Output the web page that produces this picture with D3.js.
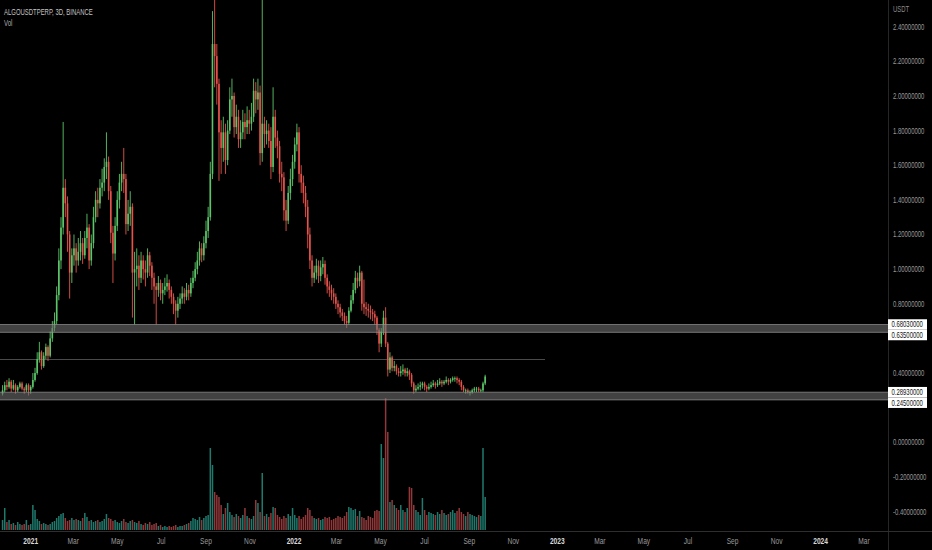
<!DOCTYPE html>
<html><head><meta charset="utf-8">
<script src="https://cdn.jsdelivr.net/npm/d3@7/dist/d3.min.js"></script>
<style>html,body{margin:0;padding:0;background:#000;overflow:hidden}</style>
</head><body>
<svg id="chart" width="932" height="550"></svg>
<script>
// ---------------- DATA ----------------
const title = "ALGOUSDTPERP, 3D, BINANCE";
const paneLabel = "Vol";
const currency = "USDT";
const firstCandle = "2020-11-23";   // 3-day candles
const firstOpen = 0.28;

const closes = [
0.30,0.33,0.32,0.35,0.31,0.33,0.30,0.32,0.34,0.31,
0.30,0.33,0.30,0.32,0.36,0.40,0.48,0.52,0.44,0.50,
0.55,0.50,0.60,0.66,0.70,0.85,1.05,1.24,1.47,1.38,
1.20,0.98,1.08,1.12,1.05,1.10,1.15,1.08,1.18,1.24,
1.05,1.15,1.30,1.40,1.38,1.47,1.50,1.59,1.62,1.45,
1.21,1.09,1.25,1.40,1.50,1.55,1.52,1.26,1.32,1.36,
0.98,1.00,1.02,0.95,1.05,1.00,0.98,1.08,1.02,0.95,
0.90,0.88,0.92,0.86,0.88,0.90,0.92,0.88,0.84,0.80,
0.76,0.80,0.83,0.86,0.84,0.88,0.86,0.92,0.95,1.00,
1.05,1.12,1.08,1.15,1.22,1.30,1.55,2.30,2.23,2.07,
1.79,1.70,1.79,1.63,1.80,1.98,2.00,1.82,1.88,1.75,
1.79,1.85,1.82,1.86,1.84,1.88,2.03,1.98,2.02,1.67,
1.84,1.78,1.80,1.74,1.59,1.88,1.76,1.71,1.55,1.53,
1.34,1.28,1.44,1.52,1.62,1.72,1.79,1.55,1.50,1.44,
1.36,1.20,1.05,0.95,0.98,1.02,0.96,1.01,1.03,0.95,
0.90,0.88,0.86,0.84,0.80,0.78,0.75,0.73,0.70,0.69,
0.76,0.82,0.88,0.95,0.93,0.98,0.80,0.78,0.77,0.76,
0.75,0.74,0.72,0.65,0.57,0.64,0.72,0.57,0.42,0.49,
0.43,0.44,0.41,0.40,0.41,0.42,0.40,0.41,0.39,0.34,
0.30,0.31,0.32,0.33,0.34,0.32,0.31,0.32,0.33,0.34,
0.33,0.34,0.35,0.34,0.35,0.36,0.35,0.36,0.37,0.37,
0.36,0.35,0.32,0.30,0.30,0.29,0.29,0.30,0.31,0.31,
0.30,0.30,0.34,0.38];

const highs = [
0.33,0.35,0.36,0.37,0.36,0.36,0.34,0.33,0.35,0.35,
0.32,0.34,0.34,0.33,0.40,0.43,0.52,0.58,0.53,0.52,
0.57,0.56,0.64,0.70,0.75,0.90,1.12,1.30,1.85,1.52,
1.42,1.22,1.12,1.20,1.15,1.18,1.22,1.18,1.22,1.32,
1.26,1.20,1.36,1.45,1.47,1.52,1.58,1.64,1.79,1.65,
1.48,1.25,1.30,1.45,1.55,1.62,1.70,1.55,1.40,1.45,
1.38,1.10,1.12,1.08,1.10,1.08,1.05,1.12,1.10,1.04,
0.98,0.92,0.96,0.94,0.92,0.95,0.97,0.94,0.90,0.86,
0.82,0.84,0.86,0.90,0.89,0.92,0.91,0.95,0.99,1.04,
1.10,1.16,1.15,1.19,1.28,1.36,1.62,2.49,2.60,2.30,
2.10,1.86,1.88,1.84,1.86,2.05,2.10,2.02,1.95,1.92,
1.86,1.92,1.90,1.94,1.92,1.96,2.10,2.08,2.10,2.06,
2.65,1.88,1.86,1.84,1.82,2.05,1.92,1.80,1.74,1.62,
1.56,1.40,1.48,1.58,1.66,1.76,1.84,1.82,1.60,1.54,
1.48,1.40,1.24,1.08,1.02,1.06,1.05,1.05,1.07,1.05,
0.97,0.93,0.91,0.89,0.86,0.82,0.80,0.77,0.75,0.73,
0.78,0.85,0.92,0.99,0.98,1.02,0.99,0.94,0.81,0.80,
0.79,0.77,0.76,0.73,0.66,0.66,0.76,0.78,0.58,0.52,
0.50,0.47,0.45,0.43,0.44,0.45,0.43,0.43,0.42,0.40,
0.35,0.33,0.34,0.35,0.35,0.35,0.33,0.34,0.35,0.36,
0.35,0.36,0.37,0.36,0.36,0.38,0.37,0.37,0.38,0.38,
0.38,0.37,0.36,0.33,0.31,0.31,0.30,0.31,0.32,0.32,
0.32,0.31,0.35,0.39];

const lows = [
0.27,0.29,0.30,0.31,0.29,0.30,0.28,0.29,0.31,0.30,
0.28,0.29,0.27,0.28,0.31,0.35,0.39,0.46,0.42,0.43,
0.48,0.47,0.49,0.58,0.64,0.68,0.82,1.00,1.20,1.30,
1.10,0.83,0.92,1.02,0.98,1.02,1.05,1.03,1.06,1.12,
1.00,1.02,1.12,1.27,1.30,1.35,1.42,1.45,1.52,1.40,
1.15,0.92,1.05,1.22,1.35,1.45,1.44,1.20,1.22,1.25,
0.72,0.68,0.90,0.88,0.92,0.94,0.90,0.95,0.96,0.88,
0.80,0.68,0.84,0.82,0.80,0.85,0.87,0.83,0.80,0.74,
0.68,0.72,0.77,0.80,0.80,0.82,0.82,0.84,0.89,0.93,
0.97,1.02,1.04,1.05,1.12,1.18,1.28,1.52,2.05,1.95,
1.51,1.55,1.62,1.55,1.60,1.78,1.88,1.76,1.78,1.70,
1.70,1.75,1.75,1.78,1.78,1.80,1.85,1.90,1.92,1.60,
1.62,1.70,1.72,1.70,1.52,1.56,1.70,1.64,1.50,1.45,
1.28,1.22,1.26,1.40,1.48,1.58,1.68,1.50,1.44,1.38,
1.30,1.12,1.00,0.90,0.92,0.94,0.92,0.93,0.97,0.91,
0.86,0.84,0.82,0.80,0.77,0.74,0.72,0.70,0.68,0.66,
0.68,0.75,0.80,0.86,0.89,0.90,0.76,0.74,0.73,0.72,
0.71,0.70,0.68,0.62,0.52,0.55,0.62,0.55,0.38,0.40,
0.41,0.41,0.39,0.38,0.38,0.39,0.38,0.38,0.36,0.32,
0.28,0.29,0.30,0.30,0.31,0.30,0.29,0.30,0.31,0.32,
0.31,0.32,0.33,0.32,0.33,0.34,0.33,0.34,0.35,0.35,
0.34,0.33,0.30,0.29,0.28,0.28,0.27,0.28,0.29,0.29,
0.29,0.29,0.29,0.33];

// volume (millions, relative)
const volumes = [
50,110,40,50,30,35,25,40,30,25,
30,50,25,30,125,100,55,45,30,35,
30,25,30,40,45,60,70,80,85,60,
45,50,60,50,55,50,45,60,85,65,
45,50,40,45,50,40,45,55,80,60,
55,45,50,40,35,45,55,40,35,45,
50,40,35,45,30,25,35,30,40,25,
30,35,20,25,15,20,15,20,15,20,
25,15,20,20,25,30,35,45,60,55,
50,65,50,60,70,75,410,325,190,175,
165,125,80,110,135,90,75,65,80,70,
60,75,110,70,60,55,70,150,135,90,
285,70,80,65,85,115,110,75,65,55,
70,60,80,70,110,75,60,70,55,65,
75,110,100,70,60,55,60,50,55,65,
60,65,50,55,60,70,65,60,70,90,
115,110,100,105,70,95,65,60,50,70,
65,60,95,100,95,430,360,660,490,140,
150,125,110,100,125,100,90,110,215,210,
125,100,90,75,160,100,75,90,85,80,
75,90,80,100,85,75,80,90,100,85,
95,110,90,80,70,90,80,75,70,65,
75,70,410,165];

const priceTicks = [2.4,2.2,2.0,1.8,1.6,1.4,1.2,1.0,0.8,0.4,0.0,-0.2,-0.4];
const zones = [[0.635,0.6803],[0.245,0.2893]];
const levelLabels = [[0.6803,0.635],[0.2893,0.245]];
const guideLine = {price:0.48, end:"2022-12-15"};
const timeTicks = ["2021-01-01","2021-03-01","2021-05-01","2021-07-01","2021-09-01","2021-11-01",
  "2022-01-01","2022-03-01","2022-05-01","2022-07-01","2022-09-01","2022-11-01",
  "2023-01-01","2023-03-01","2023-05-01","2023-07-01","2023-09-01","2023-11-01",
  "2024-01-01","2024-03-01"];
const timeLabels = ["2021","Mar","May","Jul","Sep","Nov","2022","Mar","May","Jul","Sep","Nov",
  "2023","Mar","May","Jul","Sep","Nov","2024","Mar"];

// ---------------- DRAW ----------------
const W = 932, H = 550, plotR = 888, plotB = 531;
const parse = d3.utcParse("%Y-%m-%d");
const svg = d3.select("#chart");
svg.append("rect").attr("width",W).attr("height",H).attr("fill","#000");

const x = d3.scaleUtc().domain([parse("2021-01-01"), parse("2022-01-01")]).range([30.7, 294]);
const y = d3.scaleLinear().domain([0, 2.4]).range([442.3, 26.7]);
const vy = d3.scaleLinear().domain([0, d3.max(volumes)]).range([530, 398]);

const start = parse(firstCandle);
const candles = closes.map((c,i)=>({
  date: d3.utcDay.offset(start, 3*i),
  o: i===0 ? firstOpen : closes[i-1], c, h: highs[i], l: lows[i], v: volumes[i]
}));

svg.append("clipPath").attr("id","plot").append("rect").attr("x",0).attr("y",0).attr("width",plotR).attr("height",plotB);
const plot = svg.append("g").attr("clip-path","url(#plot)");

const UP = "#5cc569", DN = "#e5534b";
const VUP = "#1f7a6e", VDN = "#93383a";

// volume
plot.append("g").selectAll("rect").data(candles).join("rect")
  .attr("x", d => x(d.date) - 0.75).attr("width", 1.5)
  .attr("y", d => vy(d.v)).attr("height", d => 530 - vy(d.v))
  .attr("fill", d => d.c >= d.o ? VUP : VDN);

// guide line
plot.append("line").attr("x1",0).attr("x2",x(parse(guideLine.end)))
  .attr("y1",Math.round(y(guideLine.price))+0.5).attr("y2",Math.round(y(guideLine.price))+0.5)
  .attr("stroke","#4a4a4a").attr("stroke-width",1);

// candles
const cg = plot.append("g");
cg.selectAll("line").data(candles).join("line")
  .attr("x1", d => x(d.date)).attr("x2", d => x(d.date))
  .attr("y1", d => y(Math.max(d.h,d.o,d.c))).attr("y2", d => y(Math.min(d.l,d.o,d.c)))
  .attr("stroke", d => d.c >= d.o ? UP : DN).attr("stroke-width", 0.9);
cg.selectAll("rect").data(candles).join("rect")
  .attr("x", d => x(d.date) - 0.8).attr("width", 1.6)
  .attr("y", d => y(Math.max(d.o,d.c))).attr("height", d => Math.max(0.8, Math.abs(y(d.o)-y(d.c))))
  .attr("fill", d => d.c >= d.o ? UP : DN);

// zones
zones.forEach(([lo,hi])=>{
  plot.append("rect").attr("x",0).attr("width",plotR).attr("y",y(hi)).attr("height",y(lo)-y(hi))
    .attr("fill","rgba(110,110,110,0.6)");
  [hi,lo].forEach(p=>plot.append("line").attr("x1",0).attr("x2",plotR).attr("y1",y(p)).attr("y2",y(p))
    .attr("stroke","rgba(150,150,150,0.7)").attr("stroke-width",1));
});

// separators
svg.append("line").attr("x1",plotR+0.5).attr("x2",plotR+0.5).attr("y1",0).attr("y2",H).attr("stroke","#262626");
svg.append("line").attr("x1",0).attr("x2",W).attr("y1",plotB+0.5).attr("y2",plotB+0.5).attr("stroke","#2e2e2e");

const FONT = "'Liberation Sans', Arial, sans-serif";
function txt(g, tx, ty, s, opts={}){
  const gg = g.append("g").attr("transform",`translate(${tx},${ty}) scale(${opts.sx||0.7},1)`);
  return gg.append("text").attr("x",0).attr("y",0).attr("dy","0.35em")
    .attr("font-family",FONT).attr("font-size",opts.fs||8.5)
    .attr("font-weight",opts.fw||"normal")
    .attr("text-anchor",opts.anchor||"start").attr("fill",opts.fill||"#9a9a9a").text(s);
}

// right price axis
const ax = svg.append("g");
txt(ax, 893, 9, currency, {fill:"#8a8a8a"});
priceTicks.forEach(p => txt(ax, 893, y(p), p.toFixed(8), {fill:"#9a9a9a"}));

// level labels
levelLabels.forEach(pair=>{
  let c1 = y(pair[0]);
  let c2 = Math.max(y(pair[1]), c1 + 10.5);
  [[pair[0],c1],[pair[1],c2]].forEach(([p,c])=>{
    ax.append("rect").attr("x",888).attr("y",c-5.25).attr("width",39).attr("height",10.5).attr("fill","#fff");
    txt(ax, 891.5, c, p.toFixed(8), {fill:"#111"});
  });
});

// time axis
timeTicks.forEach((t,i)=>{
  const isYear = /^\d{4}$/.test(timeLabels[i]);
  txt(svg, x(parse(t)), 540.7, timeLabels[i], {anchor:"middle", fill: isYear ? "#d8d8d8" : "#9a9a9a", fw: isYear ? "bold":"normal", sx:0.78});
});

// title
txt(svg, 4, 12, title, {fill:"#c4c4c4"});
txt(svg, 4, 23, paneLabel, {fill:"#b0b0b0"});
</script>
</body></html>
